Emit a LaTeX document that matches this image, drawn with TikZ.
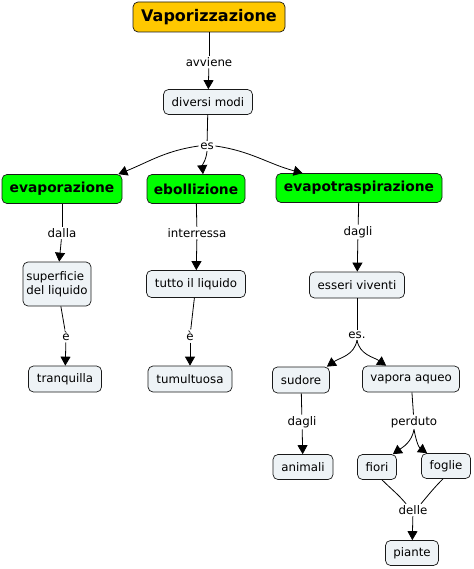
\documentclass[tikz,border=0pt]{standalone}
\usepackage{fontspec}
\setmainfont{DejaVu Sans}
\usetikzlibrary{arrows.meta}
\definecolor{conceptfill}{HTML}{EEF3F6}
\definecolor{titlefill}{HTML}{FFC800}
\definecolor{greenfill}{HTML}{00FF00}
\begin{document}
\begin{tikzpicture}[x=1pt,y=-1pt,
 concept/.style={draw=black!90, rounded corners=5pt, fill=conceptfill, font=\fontsize{11.8}{14}\selectfont, inner xsep=3pt, inner ysep=2pt, minimum height=25pt, line width=0.7pt},
 mainnode/.style={concept, fill=greenfill, font=\bfseries\fontsize{13.8}{16}\selectfont, minimum height=29pt},
 lbl/.style={font=\fontsize{11.8}{14}\selectfont, inner sep=1.5pt, text=black},
 conn/.style={line width=0.8pt},
 arr/.style={conn, -{Triangle[length=9pt,width=10pt]}}]

\useasboundingbox (0,0) rectangle (473,569);

% concepts
\node[concept, fill=titlefill, font=\bfseries\fontsize{16}{19}\selectfont, minimum width=152pt, minimum height=30pt] (title) at (209,17) {Vaporizzazione};
\node[concept, minimum width=89pt] (diversi) at (208,102) {diversi modi};
\node[mainnode, minimum width=120pt] (evap) at (62,189) {evaporazione};
\node[mainnode, minimum width=98pt] (ebol) at (196,189) {ebollizione};
\node[mainnode, minimum width=166pt] (evapot) at (359,188) {evapotraspirazione};
\node[concept, minimum width=68pt, minimum height=44pt, align=left] (superf) at (57,284) {superficie\\del liquido};
\node[concept, minimum width=99pt, minimum height=27pt] (tutto) at (196,284) {tutto il liquido};
\node[concept, minimum width=95pt, minimum height=26pt] (esseri) at (357,285) {esseri viventi};
\node[concept, minimum width=73pt, minimum height=26pt] (tranq) at (65,379) {tranquilla};
\node[concept, minimum width=84pt, minimum height=26pt] (tumult) at (190,379) {tumultuosa};
\node[concept, minimum width=57pt, minimum height=26pt] (sudore) at (301,380) {sudore};
\node[concept, minimum width=97pt, minimum height=26pt] (vapora) at (411,379) {vapora aqueo};
\node[concept, minimum width=60pt] (animali) at (303,467) {animali};
\node[concept, minimum width=39pt] (fiori) at (377,467) {fiori};
\node[concept, minimum width=49pt] (foglie) at (446,466) {foglie};
\node[concept, minimum width=53pt] (piante) at (412,553) {piante};

% linking phrases
\node[lbl] (avviene) at (209,62) {avviene};
\node[lbl] (es) at (207,146) {es};
\node[lbl] (dalla) at (62,233) {dalla};
\node[lbl] (interr) at (197,233) {interressa};
\node[lbl] (dagli) at (358,232) {dagli};
\node[lbl] (e1) at (66,336) {è};
\node[lbl] (e2) at (190,336) {è};
\node[lbl] (es2) at (357,335) {es.};
\node[lbl] (dagli2) at (302,422) {dagli};
\node[lbl] (perduto) at (414,422) {perduto};
\node[lbl] (delle) at (413,510) {delle};

% connectors
\draw[conn] (title) -- (avviene);
\draw[arr] (avviene) -- (diversi);
\draw[conn] (diversi) -- (es);
\draw[arr] (es.west) to[out=188,in=22] ([xshift=-4pt]evap.north east);
\draw[arr] (es.south) to[out=-95,in=95] ([xshift=7pt]ebol.north);
\draw[arr] (es.east) to[out=-8,in=165] ([xshift=27pt]evapot.north west);

\draw[conn] (evap) -- (dalla);
\draw[arr] (dalla) -- (superf);
\draw[conn] (superf) -- (e1);
\draw[arr] (e1) -- (tranq);

\draw[conn] (ebol) -- (interr);
\draw[arr] (interr) -- (tutto);
\draw[conn] (tutto) -- (e2);
\draw[arr] (e2) -- (tumult);

\draw[conn] (evapot) -- (dagli);
\draw[arr] (dagli) -- (esseri);
\draw[conn] (esseri) -- (es2);
\draw[arr] (es2.south) to[out=-100,in=35] ([xshift=-3pt]sudore.north east);
\draw[arr] (es2.south) to[out=-80,in=145] ([xshift=24pt]vapora.north west);

\draw[conn] (sudore) -- (dagli2);
\draw[arr] (dagli2) -- (animali);
\draw[conn] (vapora) -- (perduto);
\draw[arr] (perduto.south) to[out=-100,in=35] ([xshift=-4pt]fiori.north east);
\draw[arr] (perduto.south) to[out=-80,in=145] ([xshift=6pt]foglie.north west);

\draw[conn] ([xshift=5pt]fiori.south) to[out=-45,in=130] ([xshift=9pt]delle.north west);
\draw[conn] ([xshift=-3pt]foglie.south) to[out=-135,in=50] ([xshift=-8pt]delle.north east);
\draw[arr] (delle) -- (piante);
\end{tikzpicture}
\end{document}
